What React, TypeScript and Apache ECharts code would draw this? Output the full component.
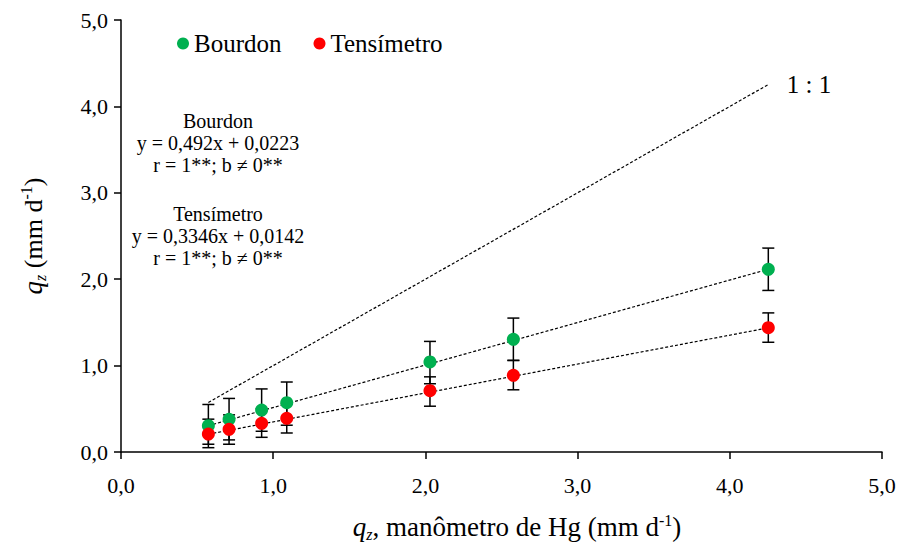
import React, { useEffect, useRef } from "react";
import * as echarts from "echarts";

const qzHg = [0.574, 0.71, 0.924, 1.089, 2.03, 2.578, 4.253];
const bourdon = [0.304, 0.378, 0.486, 0.571, 1.042, 1.304, 2.114];
const tensiometro = [0.208, 0.262, 0.332, 0.39, 0.71, 0.887, 1.439];
const bourdonLow = [0.05, 0.14, 0.24, 0.31, 0.79, 1.06, 1.87];
const bourdonHigh = [0.55, 0.62, 0.73, 0.81, 1.28, 1.55, 2.36];
const tensLow = [0.09, 0.09, 0.17, 0.22, 0.53, 0.72, 1.27];
const tensHigh = [0.38, 0.43, 0.5, 0.56, 0.87, 1.06, 1.61];
const bourdonTrend = [[0.574, 0.305], [4.253, 2.115]];
const tensTrend = [[0.574, 0.206], [4.253, 1.437]];
const oneToOne = [[0.574, 0.574], [4.253, 4.253]];
const annotationBourdon = ["Bourdon", "y = 0,492x + 0,0223", "r = 1**; b ≠ 0**"];
const annotationTens = ["Tensímetro", "y = 0,3346x + 0,0142", "r = 1**; b ≠ 0**"];

const FONT = "'Liberation Serif', 'Times New Roman', serif";

export default function App() {
  const ref = useRef<HTMLDivElement>(null);
  useEffect(() => {
    document.body.style.margin = "0";
    const chart = echarts.init(ref.current!, null, { renderer: "svg" });
    const errSeries = (name: string, lo: number[], hi: number[]) => ({
      type: "custom",
      name,
      z: 2,
      silent: true,
      data: qzHg.map((x, i) => [x, lo[i], hi[i]]),
      encode: { x: 0, y: [1, 2] },
      renderItem: (_p: any, api: any) => {
        const x = api.value(0);
        const a = api.coord([x, api.value(1)]);
        const b = api.coord([x, api.value(2)]);
        const w = 6;
        const style = { stroke: "#000", lineWidth: 1.5 };
        return {
          type: "group",
          children: [
            { type: "line", shape: { x1: a[0], y1: a[1], x2: b[0], y2: b[1] }, style },
            { type: "line", shape: { x1: a[0] - w, y1: a[1], x2: a[0] + w, y2: a[1] }, style },
            { type: "line", shape: { x1: b[0] - w, y1: b[1], x2: b[0] + w, y2: b[1] }, style },
          ],
        };
      },
    });
    const dashed = (data: number[][]) => ({
      type: "line",
      data,
      symbol: "none",
      silent: true,
      z: 3,
      lineStyle: { color: "#000", width: 1.2, type: [3, 2] },
    });
    const fmt = (v: number) => v.toFixed(1).replace(".", ",");
    const annText = (lines: string[], y0: number) =>
      lines.map((t, i) => ({
        type: "text",
        x: 218,
        y: y0 + i * 22,
        style: {
          text: t,
          fontSize: 20,
          fontFamily: FONT,
          fill: "#000",
          align: "center",
          verticalAlign: "middle",
        },
      }));
    const rich = {
      i: { fontStyle: "italic", fontSize: 27, fontFamily: FONT, lineHeight: 30 },
      sub: { fontStyle: "italic", fontSize: 16, fontFamily: FONT, lineHeight: 16, verticalAlign: "bottom" },
      sup: { fontSize: 16, fontFamily: FONT, lineHeight: 16, verticalAlign: "top" },
    };
    chart.setOption({
      animation: false,
      textStyle: { fontFamily: FONT },
      grid: { left: 121, right: 18, top: 20, bottom: 95, containLabel: false },
      legend: {
        left: 172,
        top: 26,
        icon: "circle",
        itemWidth: 12,
        itemHeight: 12,
        itemGap: 32,
        data: ["Bourdon", "Tensímetro"],
        textStyle: { fontSize: 25, fontFamily: FONT, color: "#000" },
      },
      xAxis: {
        type: "value",
        min: 0,
        max: 5,
        interval: 1,
        splitLine: { show: false },
        axisLine: { lineStyle: { color: "#000", width: 1.5 } },
        axisTick: { inside: false, length: 7, lineStyle: { color: "#000", width: 1.5 } },
        axisLabel: { margin: 22, fontSize: 22, fontFamily: FONT, color: "#000", formatter: fmt },
      },
      yAxis: {
        type: "value",
        min: 0,
        max: 5,
        interval: 1,
        splitLine: { show: false },
        axisLine: { show: true, lineStyle: { color: "#000", width: 1.5 } },
        axisTick: { show: true, inside: false, length: 7, lineStyle: { color: "#000", width: 1.5 } },
        axisLabel: { margin: 13, fontSize: 22, fontFamily: FONT, color: "#000", formatter: fmt },
      },
      graphic: [
        ...annText(annotationBourdon, 121),
        ...annText(annotationTens, 214),
        {
          type: "text",
          x: 809,
          y: 84,
          style: { text: "1 : 1", fontSize: 25, fontFamily: FONT, fill: "#000", align: "center", verticalAlign: "middle" },
        },
        {
          type: "text",
          x: 517,
          y: 527,
          style: {
            text: "{i|q}{sub|z}, manômetro de Hg (mm d{sup|-1})",
            rich,
            fontSize: 27,
            lineHeight: 30,
            fontFamily: FONT,
            fill: "#000",
            align: "center",
            verticalAlign: "middle",
          },
        },
        {
          type: "text",
          x: 33,
          y: 236,
          rotation: Math.PI / 2,
          style: {
            text: "{i|q}{sub|z} (mm d{sup|-1})",
            rich,
            fontSize: 26,
            lineHeight: 30,
            fontFamily: FONT,
            fill: "#000",
            align: "center",
            verticalAlign: "middle",
          },
        },
      ],
      series: [
        dashed(oneToOne),
        dashed(bourdonTrend),
        dashed(tensTrend),
        errSeries("errB", bourdonLow, bourdonHigh),
        errSeries("errT", tensLow, tensHigh),
        {
          type: "scatter",
          name: "Bourdon",
          z: 5,
          symbolSize: 13,
          itemStyle: { color: "#00B050", opacity: 1 },
          data: qzHg.map((x, i) => [x, bourdon[i]]),
        },
        {
          type: "scatter",
          name: "Tensímetro",
          z: 5,
          symbolSize: 13,
          itemStyle: { color: "#FF0000", opacity: 1 },
          data: qzHg.map((x, i) => [x, tensiometro[i]]),
        },
      ],
    });
    return () => chart.dispose();
  }, []);
  return <div ref={ref} style={{ width: 900, height: 547 }} />;
}
